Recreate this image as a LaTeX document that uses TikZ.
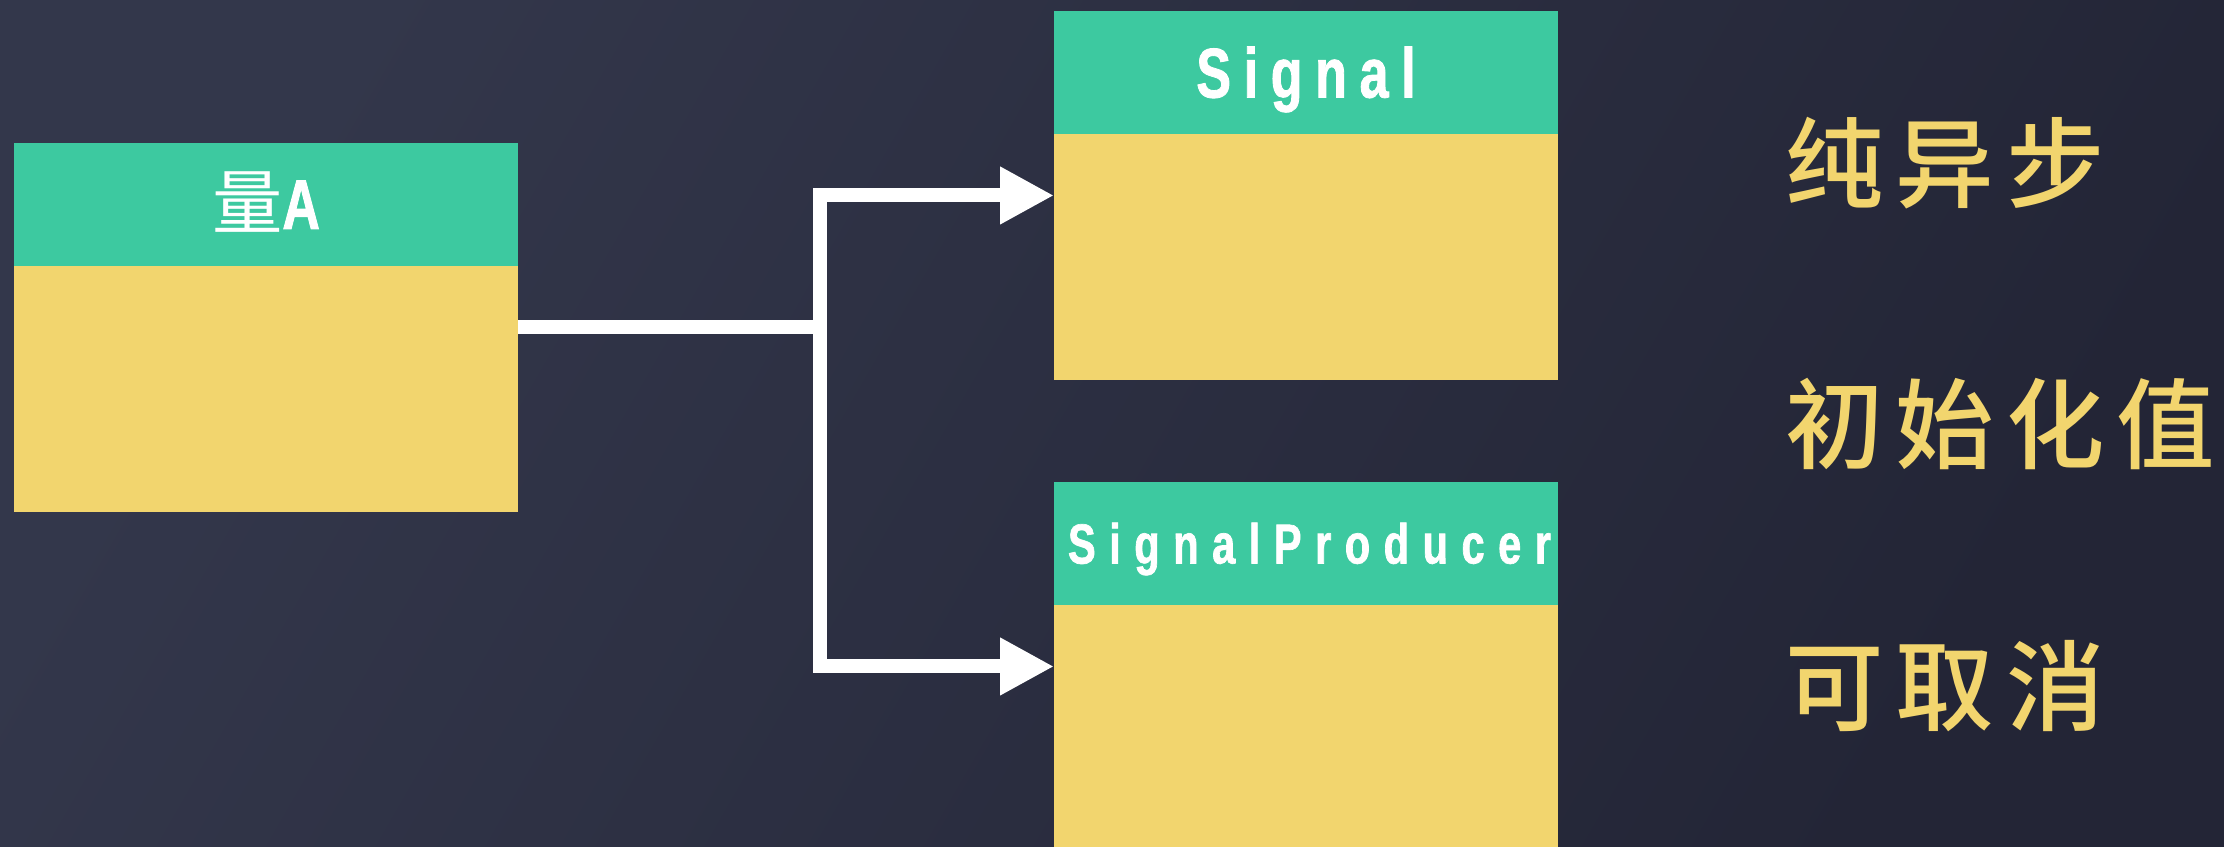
\documentclass[tikz,border=0pt]{standalone}
\usepackage{fontspec}
\usetikzlibrary{positioning, calc, arrows.meta}
\newfontfamily\titlefont{Liberation Sans}[UprightFont={Liberation Sans Bold}, FakeStretch=0.74, FakeBold=1.2, LetterSpace=18]
\newfontfamily\widetitlefont{Liberation Sans}[UprightFont={Liberation Sans Bold}, FakeStretch=0.74, FakeBold=1.2, LetterSpace=24]
\newfontfamily\cjktitle{Noto Sans CJK SC}[LetterSpace=20]
\newfontfamily\cjk{Noto Sans CJK SC}[UprightFont=* Medium, LetterSpace=12]
\definecolor{bgleft}{RGB}{51,55,75}
\definecolor{bgright}{RGB}{35,37,54}
\definecolor{headgreen}{RGB}{61,201,160}
\definecolor{bodyyellow}{RGB}{242,213,110}
\tikzset{
	head/.style={
		rectangle,
		fill=headgreen,
		text=white,
		minimum width=5.04cm,
		minimum height=1.23cm,
		inner sep=0pt,
		outer sep=0pt,
		text depth=0pt,
	},
	body/.style={
		rectangle,
		fill=bodyyellow,
		minimum width=5.04cm,
		minimum height=2.46cm,
		inner sep=0pt,
		outer sep=0pt,
	},
	note/.style={
		anchor=west,
		inner sep=0pt,
		text=bodyyellow,
		font=\cjk\fontsize{28}{32}\selectfont,
	},
	wire/.style={
		draw=white,
		line width=0.14cm,
	},
}

\begin{document}
\begin{tikzpicture}[node distance=0pt, >={Triangle[length=0.54cm, width=0.54cm]}]
		\useasboundingbox (0,0) rectangle (22.24,8.47);
		\shade [left color=bgleft, right color=bgright, shading angle=60] (0,0) rectangle (22.24,8.47);

		% boxes
		\node [head, anchor=north west, text height=0.49cm, font=\titlefont\fontsize{20}{24}\selectfont] (ahead) at (0.14,7.04) {{\cjktitle 量}A};
		\node [body, below=of ahead] (abody) {};
		\node [head, anchor=north west, text height=0.50cm, font=\titlefont\fontsize{20}{24}\selectfont] (shead) at (10.54,8.36) {Signal};
		\node [body, below=of shead] (sbody) {};
		\node [head, below=1.02cm of sbody, text height=0.40cm, font=\widetitlefont\fontsize{16}{20}\selectfont] (phead) {\hspace{0.07cm}SignalProducer};
		\node [body, below=of phead] (pbody) {};

		% properties
		\node [note] (async) at (17.85,6.84) {纯异步};
		\node [note] (init) at (17.85,4.23) {初始化值};
		\node [note] (cancel) at (17.85,1.61) {可取消};

		% connectors
		\coordinate (fork) at (8.20,0);
		\coordinate (aout) at ($(abody.north east)!.25!(abody.south east)$);
		\coordinate (sin) at ($(sbody.north west)!.25!(sbody.south west)$);
		\coordinate (pin) at ($(pbody.north west)!.25!(pbody.south west)$);
		\draw [wire] (aout) -- (aout -| fork);
		\draw [wire, ->] (aout -| fork) |- (sin);
		\draw [wire, ->] (aout -| fork) |- (pin);
	\end{tikzpicture}
\end{document}
